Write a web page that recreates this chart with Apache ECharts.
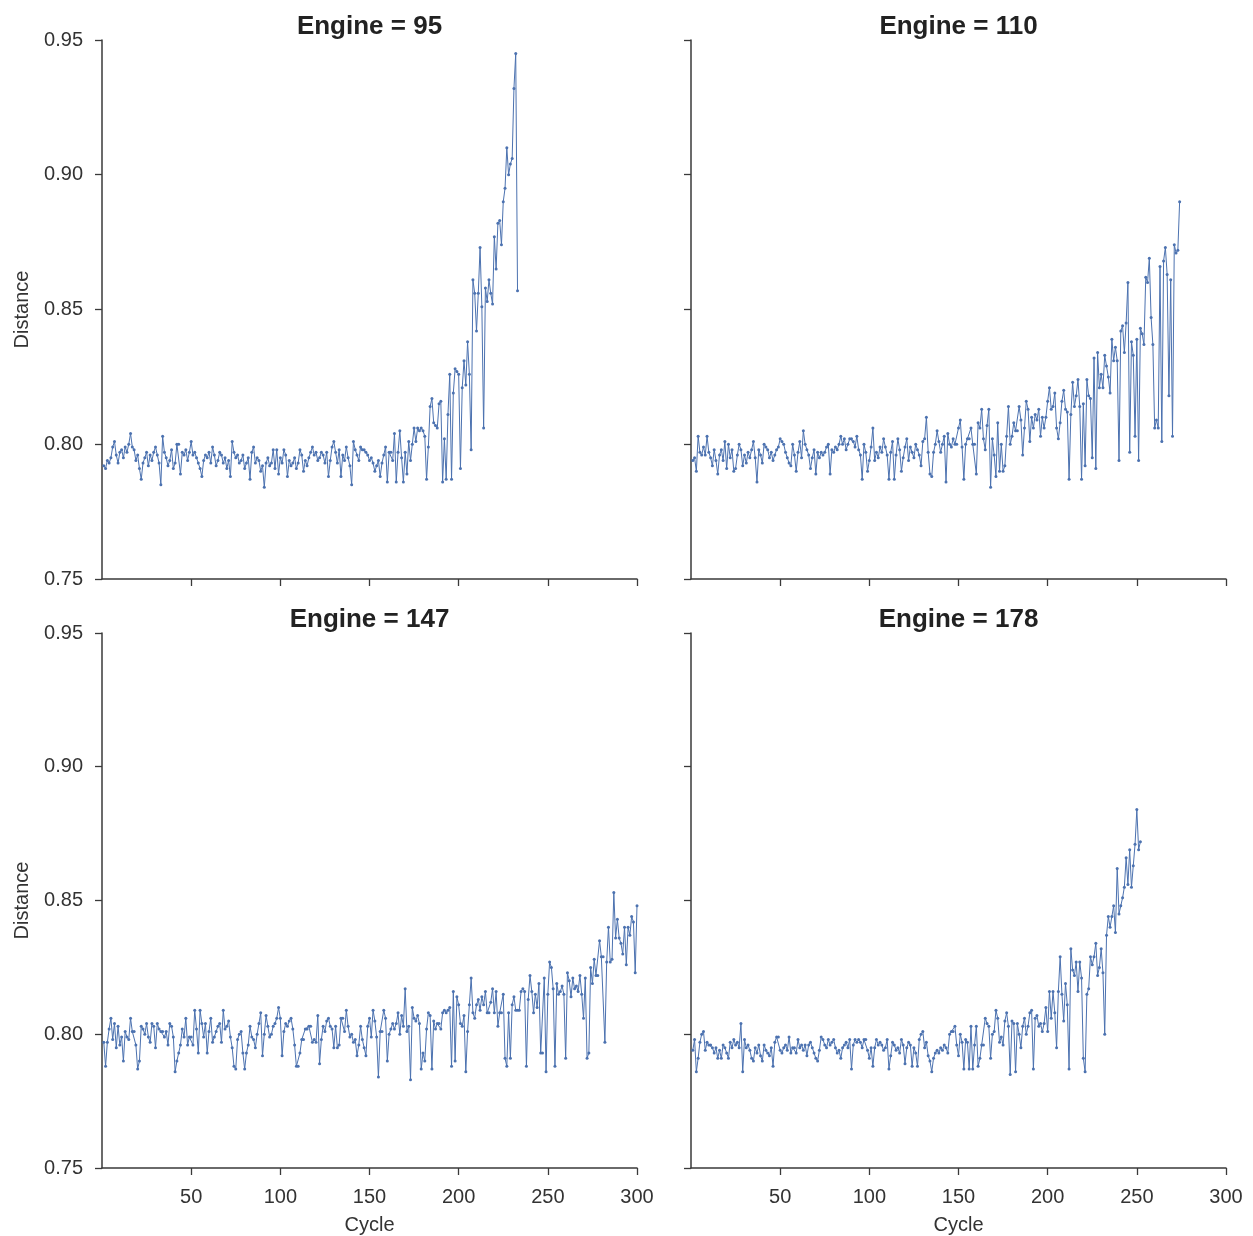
<!DOCTYPE html>
<html>
<head>
<meta charset="utf-8">
<script src="https://cdn.jsdelivr.net/npm/echarts@6/dist/echarts.min.js"></script>
<style>
html,body{margin:0;padding:0;background:#fff;}
#chart{width:1253px;height:1236px;}
</style>
</head>
<body>
<div id="chart"></div>
<script>
const engines = ['95', '110', '147', '178'];
const xTicks = [50, 100, 150, 200, 250, 300];
const yTicks = [0.75, 0.80, 0.85, 0.90, 0.95];

const engine95 = [
0.792,0.791,0.794,0.793,0.795,0.799,0.801,0.796,0.793,0.797,
0.798,0.795,0.799,0.797,0.800,0.804,0.799,0.798,0.794,0.796,
0.791,0.787,0.793,0.795,0.797,0.792,0.796,0.794,0.797,0.799,
0.796,0.793,0.785,0.803,0.797,0.795,0.792,0.794,0.798,0.791,
0.793,0.800,0.800,0.789,0.797,0.796,0.798,0.794,0.797,0.801,
0.796,0.797,0.795,0.793,0.791,0.788,0.794,0.796,0.795,0.797,
0.793,0.799,0.796,0.792,0.794,0.797,0.796,0.793,0.795,0.791,
0.794,0.788,0.801,0.797,0.795,0.796,0.793,0.794,0.796,0.791,
0.793,0.795,0.787,0.797,0.799,0.793,0.795,0.794,0.790,0.792,
0.784,0.793,0.795,0.792,0.793,0.798,0.791,0.798,0.789,0.795,
0.793,0.798,0.796,0.788,0.794,0.792,0.793,0.795,0.791,0.793,
0.798,0.796,0.790,0.794,0.792,0.795,0.797,0.799,0.796,0.797,
0.794,0.795,0.797,0.796,0.793,0.797,0.788,0.794,0.799,0.801,
0.797,0.793,0.798,0.788,0.796,0.794,0.799,0.795,0.792,0.785,
0.801,0.798,0.796,0.794,0.799,0.798,0.798,0.797,0.796,0.794,
0.795,0.793,0.790,0.792,0.794,0.788,0.793,0.796,0.799,0.786,
0.797,0.797,0.794,0.804,0.786,0.797,0.805,0.795,0.786,0.797,
0.789,0.801,0.794,0.800,0.806,0.801,0.806,0.805,0.806,0.805,
0.803,0.787,0.799,0.814,0.817,0.808,0.807,0.806,0.815,0.816,
0.786,0.802,0.787,0.811,0.826,0.787,0.819,0.828,0.827,0.826,
0.791,0.821,0.831,0.822,0.838,0.826,0.798,0.861,0.856,0.842,
0.856,0.873,0.851,0.806,0.858,0.853,0.861,0.856,0.852,0.877,
0.865,0.882,0.883,0.874,0.890,0.895,0.910,0.900,0.904,0.906,
0.932,0.945,0.857
];

const engine110 = [
0.794,0.795,0.790,0.803,0.797,0.796,0.799,0.796,0.803,0.797,
0.795,0.792,0.798,0.794,0.789,0.796,0.798,0.794,0.801,0.791,
0.800,0.795,0.798,0.790,0.791,0.796,0.800,0.798,0.792,0.796,
0.793,0.797,0.795,0.798,0.801,0.795,0.786,0.798,0.796,0.793,
0.800,0.799,0.798,0.795,0.797,0.794,0.796,0.798,0.799,0.802,
0.801,0.800,0.797,0.795,0.793,0.792,0.800,0.796,0.790,0.797,
0.801,0.795,0.805,0.800,0.798,0.796,0.791,0.795,0.798,0.789,
0.797,0.795,0.797,0.796,0.797,0.799,0.800,0.789,0.798,0.797,
0.799,0.798,0.800,0.803,0.800,0.802,0.798,0.800,0.802,0.802,
0.801,0.799,0.803,0.798,0.796,0.787,0.800,0.797,0.790,0.794,
0.799,0.806,0.794,0.797,0.795,0.799,0.797,0.802,0.799,0.796,
0.787,0.797,0.801,0.787,0.796,0.802,0.798,0.790,0.795,0.799,
0.802,0.794,0.799,0.797,0.795,0.800,0.798,0.796,0.792,0.801,
0.802,0.810,0.797,0.789,0.788,0.797,0.800,0.805,0.801,0.797,
0.800,0.803,0.786,
0.804,0.800,0.799,0.802,0.800,0.800,0.806,0.809,0.799,0.787,
0.800,0.802,0.802,0.806,0.800,0.800,0.789,0.808,0.806,0.813,
0.802,0.798,0.807,0.813,0.784,0.802,0.796,0.788,0.808,0.790,
0.800,0.790,0.792,0.803,0.814,0.800,0.803,0.808,0.805,0.805,
0.814,0.809,0.796,0.806,0.816,0.813,0.801,0.810,0.806,0.811,
0.809,0.813,0.803,0.810,0.806,0.810,0.816,0.821,0.813,0.814,
0.819,0.806,0.802,0.808,0.816,0.820,0.813,0.812,0.787,0.811,
0.823,0.814,0.818,0.824,0.814,0.787,0.815,0.792,0.824,0.818,
0.817,0.795,0.832,0.791,0.834,0.821,0.826,0.821,0.833,0.829,
0.825,0.819,0.839,0.831,0.836,0.831,0.794,0.842,0.844,0.834,
0.845,0.860,0.797,0.838,0.833,0.803,0.839,0.794,0.843,0.841,
0.837,0.862,0.860,0.869,0.847,0.837,0.806,0.809,0.806,0.866,
0.801,0.868,0.873,0.863,0.818,0.861,0.803,0.874,0.871,0.872,
0.890
];

const engine147 = [
0.797,0.788,0.797,0.802,0.806,0.798,0.804,0.795,0.803,0.796,
0.799,0.790,0.801,0.799,0.798,0.806,0.801,0.801,0.796,0.787,
0.790,0.803,0.802,0.800,0.804,0.799,0.797,0.804,0.803,0.795,
0.804,0.802,0.801,0.801,0.799,0.801,0.796,0.804,0.803,0.799,
0.786,0.790,0.793,0.796,0.802,0.799,0.806,0.796,0.799,0.799,
0.796,0.809,0.802,0.793,0.809,0.804,0.799,0.804,0.793,0.801,
0.806,0.797,0.799,0.801,0.803,0.804,0.797,0.809,0.802,0.803,
0.805,0.799,0.795,0.788,0.787,0.798,0.800,0.801,0.793,0.787,
0.793,0.796,0.803,0.799,0.798,0.795,0.800,0.804,0.808,0.792,
0.800,0.807,0.803,0.799,0.800,0.803,0.804,0.806,0.810,0.806,
0.792,0.801,0.804,0.803,0.805,0.806,0.802,0.796,0.788,0.788,
0.793,0.798,0.798,0.802,0.802,0.803,0.803,0.797,0.798,0.797,
0.807,0.789,0.798,0.803,0.801,0.805,0.806,0.803,0.802,0.795,
0.803,0.795,0.796,0.806,0.806,0.801,0.809,0.803,0.799,0.800,
0.797,0.798,0.792,0.796,
0.803,0.798,0.795,0.792,0.803,0.806,0.799,0.809,0.805,
0.799,0.784,0.801,0.801,0.809,0.806,0.790,0.800,0.802,0.804,
0.802,0.804,0.808,0.800,0.807,0.803,0.817,0.801,0.803,
0.783,0.810,0.806,0.805,0.807,0.804,0.787,0.793,0.790,0.802,
0.808,0.807,0.787,0.805,0.802,0.804,0.804,0.802,0.808,
0.809,0.808,0.809,0.810,0.788,0.816,0.790,0.814,0.811,0.804,
0.803,0.807,0.786,0.801,0.811,0.821,0.808,0.806,0.811,0.813,
0.809,0.814,0.811,0.816,0.808,0.808,0.812,0.817,0.808,
0.816,0.803,0.808,0.808,0.815,0.791,0.788,0.808,0.791,0.811,
0.814,0.809,0.809,0.809,0.816,0.817,0.816,0.788,0.813,0.822,
0.816,0.808,0.815,0.810,0.819,0.793,0.793,0.821,0.786,0.815,
0.827,0.825,0.817,0.788,0.819,0.815,0.816,0.818,0.815,
0.791,0.823,0.820,0.814,0.821,0.817,0.818,0.816,0.822,0.815,
0.806,0.821,0.791,0.793,0.825,0.819,0.828,0.822,0.822,
0.835,0.829,0.829,0.797,0.827,0.840,0.827,0.828,0.853,0.836,
0.843,0.836,0.834,0.830,0.840,0.826,0.840,0.837,0.844,0.842,
0.823,0.848
];

const engine178 = [
0.794,0.798,0.786,0.791,0.797,0.800,0.801,0.794,0.797,0.796,
0.796,0.795,0.793,0.795,0.791,0.794,0.791,0.796,0.795,0.793,
0.791,0.797,0.795,0.798,0.796,0.797,0.795,0.804,0.786,0.798,
0.795,0.796,0.794,0.791,0.790,0.795,0.793,0.796,0.792,0.790,
0.796,0.794,0.793,0.792,0.795,0.788,0.797,0.799,0.799,0.794,
0.793,0.795,0.796,0.794,0.799,0.793,0.795,0.795,0.793,0.798,
0.795,0.796,0.794,0.796,0.792,0.796,0.797,0.795,0.793,0.791,
0.790,0.794,0.799,0.798,0.796,0.795,0.798,0.796,0.797,0.798,
0.795,0.793,0.794,0.791,0.795,0.796,0.797,0.795,0.798,0.787,
0.796,0.798,0.797,0.798,0.797,0.795,0.798,0.798,0.794,0.791,
0.795,0.788,0.795,0.798,0.796,0.797,0.796,0.794,0.795,0.798,
0.787,0.792,0.797,0.796,0.794,0.795,0.793,0.798,0.796,0.789,
0.795,0.797,0.796,0.788,0.795,0.793,0.788,0.798,0.800,0.801,
0.795,0.797,0.792,0.790,0.786,0.791,0.793,0.794,0.793,0.795,
0.794,0.796,0.795,
0.793,0.800,0.801,0.801,0.803,0.796,0.792,0.800,0.797,0.787,
0.798,0.797,0.787,0.803,0.787,0.796,0.803,0.788,0.791,0.796,
0.796,0.806,0.804,0.803,0.791,0.800,0.801,0.809,0.806,0.797,
0.799,0.796,0.805,0.808,0.803,0.785,0.805,0.804,0.786,0.804,
0.800,0.795,0.803,0.806,0.800,0.803,0.808,0.809,0.787,0.806,
0.807,0.803,0.804,0.801,0.804,0.810,0.801,0.816,0.806,0.816,
0.808,0.795,0.816,0.829,0.815,0.805,0.819,0.811,0.787,0.832,
0.824,0.822,0.827,0.816,0.827,0.821,0.791,0.786,0.815,0.817,
0.829,0.826,0.829,0.834,0.822,0.825,0.832,0.823,0.800,0.837,
0.844,0.840,0.844,0.848,0.838,0.862,0.845,0.848,0.851,0.855,
0.866,0.856,0.869,0.855,0.863,0.871,0.884,0.869,0.872
];

const seriesValues = [engine95, engine110, engine147, engine178];

const FONT = '"Liberation Sans", Arial, sans-serif';
const AXIS_COLOR = '#3a3a3a';
const LABEL_COLOR = '#333333';
const LINE_COLOR = '#4C72B0';

const panels = [
  {left: 102, top: 40},
  {left: 691, top: 40},
  {left: 102, top: 633},
  {left: 691, top: 633}
];
const PW = 535, PH = 539;

const grid = panels.map(p => ({left: p.left, top: p.top, width: PW, height: PH, containLabel: false}));

const xAxis = panels.map((p, i) => ({
  type: 'value', gridIndex: i, min: 0, max: 300, interval: 50,
  name: i >= 2 ? 'Cycle' : '',
  nameLocation: 'middle', nameGap: 47,
  nameTextStyle: {fontFamily: FONT, fontSize: 20, color: LABEL_COLOR},
  axisLine: {show: true, lineStyle: {color: AXIS_COLOR, width: 1.5}},
  axisTick: {show: true, length: 7, inside: false, customValues: xTicks, lineStyle: {color: AXIS_COLOR, width: 1.3}},
  axisLabel: {show: i >= 2, customValues: xTicks, margin: 19, fontFamily: FONT, fontSize: 20, color: LABEL_COLOR},
  splitLine: {show: false}
}));

const yAxis = panels.map((p, i) => ({
  type: 'value', gridIndex: i, min: 0.75, max: 0.95, interval: 0.05,
  name: (i % 2 === 0) ? 'Distance' : '',
  nameLocation: 'middle', nameGap: 70, nameRotate: 90,
  nameTextStyle: {fontFamily: FONT, fontSize: 20, color: LABEL_COLOR},
  axisLine: {show: true, lineStyle: {color: AXIS_COLOR, width: 1.5}},
  axisTick: {show: true, length: 7, inside: false, lineStyle: {color: AXIS_COLOR, width: 1.3}},
  axisLabel: {show: i % 2 === 0, margin: 19, fontFamily: FONT, fontSize: 20, color: LABEL_COLOR,
    formatter: v => v.toFixed(2)},
  splitLine: {show: false}
}));

const title = panels.map((p, i) => ({
  text: 'Engine = ' + engines[i],
  left: p.left + PW / 2 - 5, top: p.top - 31, textAlign: 'center',
  textStyle: {fontFamily: FONT, fontSize: 26, fontWeight: 'bold', color: '#222'}
}));

const series = seriesValues.map((vals, i) => ({
  type: 'line', xAxisIndex: i, yAxisIndex: i,
  data: vals.map((v, k) => [k + 1, v]),
  symbol: 'circle', symbolSize: 3, showSymbol: true,
  lineStyle: {color: LINE_COLOR, width: 1},
  itemStyle: {color: LINE_COLOR},
  animation: false
}));

const chart = echarts.init(document.getElementById('chart'), null, {renderer: 'canvas'});
chart.setOption({backgroundColor: '#fff', animation: false, title, grid, xAxis, yAxis, series});
</script>
</body>
</html>
